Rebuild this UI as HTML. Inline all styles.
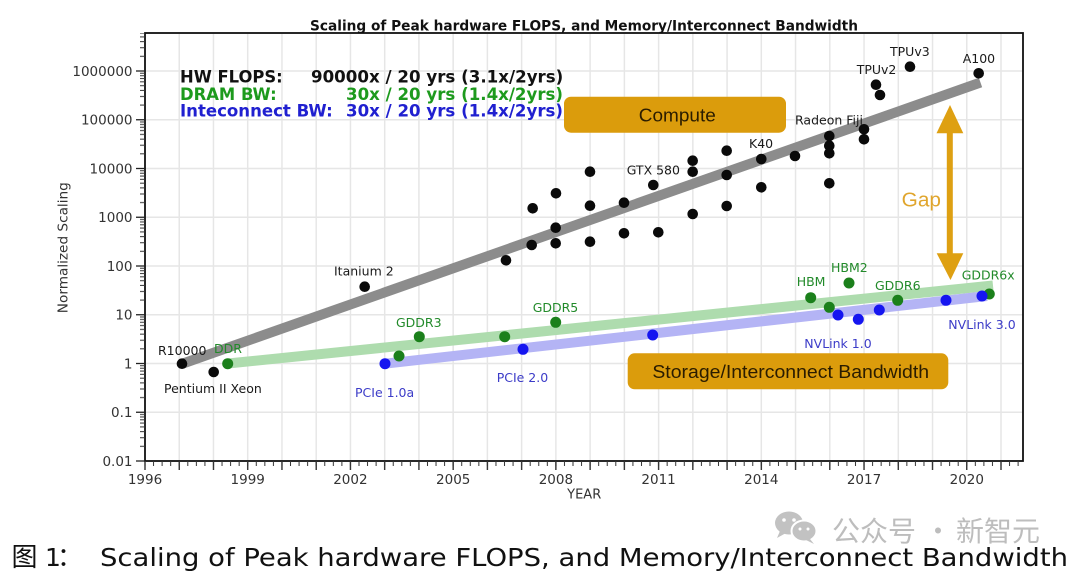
<!DOCTYPE html>
<html>
<head>
<meta charset="utf-8">
<style>
html,body{margin:0;padding:0;background:#fff;}
svg{display:block;}
.t{font-family:"DejaVu Sans","Liberation Sans",sans-serif;}
.l{font-family:"Liberation Sans","Noto Sans CJK SC",sans-serif;}
</style>
</head>
<body>
<svg width="1080" height="576" viewBox="0 0 1080 576" xmlns="http://www.w3.org/2000/svg">
<defs>
<pattern id="vg" x="127.88" y="0" width="34.24" height="20" patternUnits="userSpaceOnUse"><rect x="16.37" y="0" width="1.5" height="20" fill="#e6e6e6"/></pattern>
<pattern id="xt" x="127.88" y="0" width="34.24" height="20" patternUnits="userSpaceOnUse"><rect x="16.47" y="0" width="1.3" height="20" fill="#222"/></pattern>
<pattern id="xm" x="140.72" y="0" width="8.56" height="20" patternUnits="userSpaceOnUse"><rect x="3.78" y="0" width="1" height="20" fill="#333"/></pattern>
<pattern id="ym" x="0" y="461" width="20" height="48.75" patternUnits="userSpaceOnUse">
<rect x="0" y="33.57" width="20" height="1" fill="#333"/>
<rect x="0" y="24.99" width="20" height="1" fill="#333"/>
<rect x="0" y="18.90" width="20" height="1" fill="#333"/>
<rect x="0" y="14.18" width="20" height="1" fill="#333"/>
<rect x="0" y="10.31" width="20" height="1" fill="#333"/>
<rect x="0" y="7.05" width="20" height="1" fill="#333"/>
<rect x="0" y="4.22" width="20" height="1" fill="#333"/>
<rect x="0" y="1.73" width="20" height="1" fill="#333"/>
</pattern>
</defs>

<!-- Title -->
<text class="t" x="584" y="30.5" font-size="14.5" font-weight="bold" text-anchor="middle" fill="#111" textLength="548" lengthAdjust="spacingAndGlyphs">Scaling of Peak hardware FLOPS, and Memory/Interconnect Bandwidth</text>

<!-- Grid -->
<rect x="147" y="34" width="875" height="426" fill="url(#vg)"/>
<g stroke="#e6e6e6" stroke-width="1.5">
<line x1="145" y1="412.25" x2="1023" y2="412.25"/>
<line x1="145" y1="363.5" x2="1023" y2="363.5"/>
<line x1="145" y1="314.75" x2="1023" y2="314.75"/>
<line x1="145" y1="266" x2="1023" y2="266"/>
<line x1="145" y1="217.25" x2="1023" y2="217.25"/>
<line x1="145" y1="168.5" x2="1023" y2="168.5"/>
<line x1="145" y1="119.75" x2="1023" y2="119.75"/>
<line x1="145" y1="71" x2="1023" y2="71"/>
</g>

<!-- Trend bands -->
<line x1="183" y1="363.5" x2="980.5" y2="82.5" stroke="#8c8c8c" stroke-width="10"/>
<line x1="228" y1="363.5" x2="993" y2="285.5" stroke="#aedcae" stroke-width="10"/>
<line x1="385" y1="363.7" x2="987" y2="296" stroke="#b4b4f5" stroke-width="10"/>

<!-- Black dots -->
<g fill="#0a0a0a">
<circle cx="182" cy="363.7" r="5.3"/>
<circle cx="213.7" cy="372" r="5.3"/>
<circle cx="364.7" cy="286.7" r="5.3"/>
<circle cx="506" cy="260.3" r="5.3"/>
<circle cx="532.7" cy="208.3" r="5.3"/>
<circle cx="531.7" cy="245" r="5.3"/>
<circle cx="556" cy="193.3" r="5.3"/>
<circle cx="555.7" cy="227.7" r="5.3"/>
<circle cx="555.7" cy="243.3" r="5.3"/>
<circle cx="590" cy="171.7" r="5.3"/>
<circle cx="590" cy="205.7" r="5.3"/>
<circle cx="590" cy="241.7" r="5.3"/>
<circle cx="624" cy="202.7" r="5.3"/>
<circle cx="624" cy="233.3" r="5.3"/>
<circle cx="653.3" cy="185" r="5.3"/>
<circle cx="658.3" cy="232.3" r="5.3"/>
<circle cx="692.7" cy="160.7" r="5.3"/>
<circle cx="692.7" cy="171.7" r="5.3"/>
<circle cx="692.7" cy="214" r="5.3"/>
<circle cx="726.7" cy="150.7" r="5.3"/>
<circle cx="726.7" cy="175" r="5.3"/>
<circle cx="726.7" cy="206" r="5.3"/>
<circle cx="761.3" cy="159" r="5.3"/>
<circle cx="761.3" cy="187.3" r="5.3"/>
<circle cx="795" cy="156" r="5.3"/>
<circle cx="829.3" cy="136" r="5.3"/>
<circle cx="829.3" cy="145.7" r="5.3"/>
<circle cx="829.3" cy="153.3" r="5.3"/>
<circle cx="829.3" cy="183.3" r="5.3"/>
<circle cx="864" cy="129.3" r="5.3"/>
<circle cx="864" cy="139.3" r="5.3"/>
<circle cx="876" cy="84.7" r="5.3"/>
<circle cx="880" cy="95" r="5.3"/>
<circle cx="910" cy="66.7" r="5.3"/>
<circle cx="978.7" cy="73.3" r="5.3"/>
</g>

<!-- Green dots -->
<g fill="#1b801b">
<circle cx="227.7" cy="363.7" r="5.5"/>
<circle cx="399" cy="356" r="5.5"/>
<circle cx="419.3" cy="336.7" r="5.5"/>
<circle cx="504.7" cy="336.7" r="5.5"/>
<circle cx="555.7" cy="322.3" r="5.5"/>
<circle cx="810.7" cy="297.7" r="5.5"/>
<circle cx="829.3" cy="307.3" r="5.5"/>
<circle cx="849" cy="283" r="5.5"/>
<circle cx="897.7" cy="300.3" r="5.5"/>
<circle cx="989.3" cy="294" r="5.5"/>
</g>

<!-- Blue dots -->
<g fill="#1515f0">
<circle cx="385" cy="363.7" r="5.5"/>
<circle cx="523" cy="349.3" r="5.5"/>
<circle cx="652.7" cy="335" r="5.5"/>
<circle cx="838" cy="315" r="5.5"/>
<circle cx="858.3" cy="319.3" r="5.5"/>
<circle cx="879.3" cy="310" r="5.5"/>
<circle cx="946" cy="300.3" r="5.5"/>
<circle cx="982" cy="296" r="5.5"/>
</g>

<!-- Point labels -->
<g class="t" font-size="12.5" fill="#1a1a1a">
<text x="158" y="355">R10000</text>
<text x="164" y="393">Pentium II Xeon</text>
<text x="334" y="275.5">Itanium 2</text>
<text x="626.7" y="174.5">GTX 580</text>
<text x="749" y="147.8">K40</text>
<text x="795" y="124.5">Radeon Fiji</text>
<text x="856.7" y="73.8">TPUv2</text>
<text x="890" y="56.2">TPUv3</text>
<text x="962.7" y="62.8">A100</text>
</g>
<g class="t" font-size="12.5" fill="#228a2a">
<text x="214" y="352.8">DDR</text>
<text x="396" y="326.8">GDDR3</text>
<text x="532.7" y="311.8">GDDR5</text>
<text x="796.7" y="286.2">HBM</text>
<text x="831" y="272.2">HBM2</text>
<text x="875" y="289.8">GDDR6</text>
<text x="961.7" y="279.5">GDDR6x</text>
</g>
<g class="t" font-size="12.5" fill="#3c3cc8">
<text x="355" y="397">PCIe 1.0a</text>
<text x="496.7" y="382">PCIe 2.0</text>
<text x="804.3" y="347.8">NVLink 1.0</text>
<text x="948.3" y="328.8">NVLink 3.0</text>
</g>

<!-- Boxes -->
<rect x="564" y="96.7" width="222" height="36" rx="7" ry="7" fill="#db9c0c"/>
<text class="l" x="677.3" y="121.5" font-size="18" text-anchor="middle" fill="#2a1c00" textLength="77" lengthAdjust="spacingAndGlyphs">Compute</text>
<rect x="627.7" y="353.3" width="320.6" height="36" rx="7" ry="7" fill="#db9c0c"/>
<text class="l" x="790.7" y="378.2" font-size="18" text-anchor="middle" fill="#2a1c00" textLength="276.7" lengthAdjust="spacingAndGlyphs">Storage/Interconnect Bandwidth</text>

<!-- Gap arrow -->
<rect x="946.8" y="130" width="6" height="126" fill="#dea012"/>
<polygon points="950,105 936.5,133.3 963.3,133.3" fill="#dea012"/>
<polygon points="950.5,280 936.7,253.3 963.3,253.3" fill="#dea012"/>
<text class="l" x="901.7" y="206.7" font-size="20.5" fill="#e0a52c" textLength="39.3" lengthAdjust="spacingAndGlyphs">Gap</text>

<!-- Legend text -->
<g class="t" font-size="16.4" font-weight="bold">
<text x="180" y="82.7" fill="#111" textLength="102.7" lengthAdjust="spacingAndGlyphs">HW FLOPS:</text>
<text x="311" y="82.7" fill="#111" textLength="252.3" lengthAdjust="spacingAndGlyphs">90000x / 20 yrs (3.1x/2yrs)</text>
<text x="180" y="100" fill="#1d9a1d" textLength="96.7" lengthAdjust="spacingAndGlyphs">DRAM BW:</text>
<text x="346" y="100" fill="#1d9a1d" textLength="217" lengthAdjust="spacingAndGlyphs">30x / 20 yrs (1.4x/2yrs)</text>
<text x="180" y="116.7" fill="#2020d0" textLength="152.7" lengthAdjust="spacingAndGlyphs">Inteconnect BW:</text>
<text x="346" y="116.7" fill="#2020d0" textLength="217" lengthAdjust="spacingAndGlyphs">30x / 20 yrs (1.4x/2yrs)</text>
</g>

<!-- Axes frame -->
<rect x="145" y="33" width="878" height="428" fill="none" stroke="#111" stroke-width="1.8"/>

<!-- Ticks -->
<rect x="143" y="461" width="882" height="9" fill="url(#xt)"/>
<rect x="143" y="461" width="882" height="5" fill="url(#xm)"/>
<rect x="140" y="33" width="5" height="428" fill="url(#ym)"/>
<g stroke="#222" stroke-width="1.3">
<line x1="136" y1="461" x2="145" y2="461"/>
<line x1="136" y1="412.25" x2="145" y2="412.25"/>
<line x1="136" y1="363.5" x2="145" y2="363.5"/>
<line x1="136" y1="314.75" x2="145" y2="314.75"/>
<line x1="136" y1="266" x2="145" y2="266"/>
<line x1="136" y1="217.25" x2="145" y2="217.25"/>
<line x1="136" y1="168.5" x2="145" y2="168.5"/>
<line x1="136" y1="119.75" x2="145" y2="119.75"/>
<line x1="136" y1="71" x2="145" y2="71"/>
</g>

<!-- Y tick labels -->
<g class="t" font-size="13.5" fill="#333" text-anchor="end">
<text x="132.5" y="466">0.01</text>
<text x="132.5" y="417.2">0.1</text>
<text x="132.5" y="368.5">1</text>
<text x="132.5" y="319.7">10</text>
<text x="132.5" y="271">100</text>
<text x="132.5" y="222.2">1000</text>
<text x="132.5" y="173.5">10000</text>
<text x="132.5" y="124.7">100000</text>
<text x="132.5" y="76">1000000</text>
</g>

<!-- X tick labels -->
<g class="t" font-size="13.5" fill="#333" text-anchor="middle">
<text x="145" y="484">1996</text>
<text x="247.7" y="484">1999</text>
<text x="350.4" y="484">2002</text>
<text x="453.2" y="484">2005</text>
<text x="555.9" y="484">2008</text>
<text x="658.6" y="484">2011</text>
<text x="761.3" y="484">2014</text>
<text x="864" y="484">2017</text>
<text x="966.8" y="484">2020</text>
</g>

<!-- Axis labels -->
<text class="t" x="584.2" y="498.7" font-size="13" fill="#333" text-anchor="middle">YEAR</text>
<text class="t" transform="translate(67.5,247.7) rotate(-90)" font-size="13" fill="#333" text-anchor="middle" textLength="131" lengthAdjust="spacingAndGlyphs">Normalized Scaling</text>

<!-- Watermark -->
<g fill="#c2c2c2">
<ellipse cx="789" cy="523" rx="14" ry="11.5"/>
<polygon points="780,531 777,538 786,533" />
<ellipse cx="804" cy="531" rx="12.5" ry="10.5" stroke="#fff" stroke-width="2"/>
<polygon points="810,539 814,544 806,540"/>
</g>
<g fill="#fff">
<circle cx="784" cy="520" r="1.8"/>
<circle cx="794" cy="520" r="1.8"/>
<circle cx="800" cy="529" r="1.5"/>
<circle cx="808" cy="529" r="1.5"/>
</g>
<text x="832" y="541" font-size="28" fill="#bdbdbd" font-family="'Noto Sans CJK SC','WenQuanYi Zen Hei',sans-serif">公众号</text>
<text x="924" y="541" font-size="28" fill="#bdbdbd" font-family="'Noto Sans CJK SC','WenQuanYi Zen Hei',sans-serif">·</text>
<text x="956" y="541" font-size="28" fill="#bdbdbd" font-family="'Noto Sans CJK SC','WenQuanYi Zen Hei',sans-serif">新智元</text>

<!-- Caption -->
<text x="11.5" y="566" font-size="26" fill="#111" font-family="'Noto Sans CJK SC','WenQuanYi Zen Hei',sans-serif">图</text>
<text x="45" y="566" font-size="25" fill="#111" font-family="'DejaVu Sans',sans-serif">1</text>
<text x="57" y="566" font-size="26" fill="#111" font-family="'Noto Sans CJK SC','WenQuanYi Zen Hei',sans-serif">：</text>
<text x="100" y="566" font-size="25" fill="#111" font-family="'DejaVu Sans','Noto Sans CJK SC',sans-serif" textLength="968" lengthAdjust="spacingAndGlyphs">Scaling of Peak hardware FLOPS, and Memory/Interconnect Bandwidth</text>
</svg>
</body>
</html>
